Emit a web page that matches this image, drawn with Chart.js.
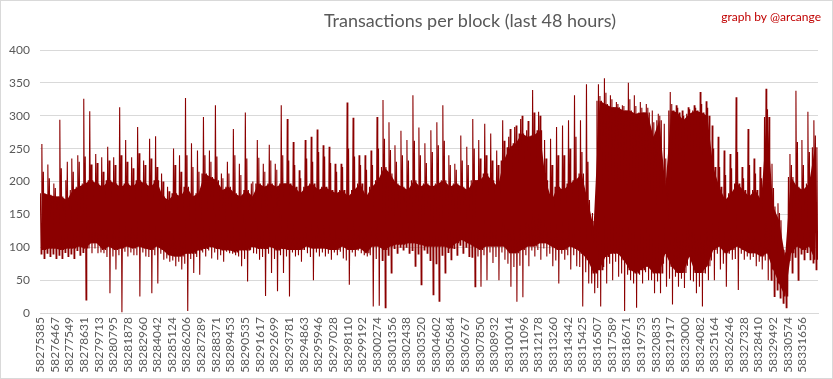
<!DOCTYPE html>
<html>
<head>
<meta charset="utf-8">
<script src="https://cdn.jsdelivr.net/npm/chart.js@4"></script>
<style>
html,body{margin:0;padding:0;background:#fff;}
#wrap{position:relative;width:833px;height:379px;box-sizing:border-box;border:1px solid #d9d9d9;background:#fff;}
canvas{display:block;}
</style>
</head>
<body>
<div id="wrap"><canvas id="c"></canvas></div>
<script>
// ---- data ----
const chartTitle = "Transactions per block (last 48 hours)";
const creditText = "graph by @arcange";
const firstBlock = 58275385;
const lastBlock = 58332804;
const tickBlocks = [58275385,58276467,58277549,58278631,58279713,58280795,58281878,58282960,58284042,58285124,58286206,58287289,58288371,58289453,58290535,58291617,58292699,58293781,58294863,58295946,58297028,58298110,58299192,58300274,58301356,58302438,58303520,58304602,58305684,58306767,58307850,58308932,58310014,58311096,58312178,58313260,58314342,58315425,58316507,58317589,58318671,58319753,58320835,58321917,58323000,58324082,58325164,58326246,58327328,58328410,58329492,58330574,58331656];
const yTicks = [0,50,100,150,200,250,300,350,400];
// per-segment envelope of transactions per block
const spikeHigh = [
 257,226,197,294,202,235,240,326,307,242,
 237,253,237,313,263,237,283,232,265,269,212,
 192,250,240,327,258,247,298,247,316,212,230,
 280,227,305,197,263,227,256,227,316,295,260,
 217,263,268,279,255,253,227,227,320,297,240,
 240,247,298,324,290,255,277,263,331,282,258,
 278,290,316,240,227,270,253,295,263,288,273,
 247,293,268,283,295,278,339,306,263,265,283,
 285,293,331,293,348,152,348,357,331,321,316,
 350,331,321,318,308,303,288,336,316,308,313,
 316,336,322,285,268,247,242,328,222,280,235,
 222,341,227,167,96,242,338,263,306,293];
const spikeHigh2 = [
 215,205,190,220,230,215,230,238,226,228,
 215,232,225,240,230,220,243,225,235,222,200,
 185,225,215,240,222,215,240,230,238,205,212,
 240,210,235,200,236,215,232,218,240,232,225,
 205,235,230,245,238,228,215,222,250,238,225,
 218,225,250,265,248,230,240,232,262,240,228,
 245,255,262,225,218,232,225,250,235,240,232,
 225,262,280,285,300,292,305,300,235,225,240,
 240,250,268,245,230,140,330,335,325,318,315,
 325,315,312,312,290,300,235,318,312,300,310,
 312,318,312,250,222,210,220,245,205,225,212,
 205,310,190,152,92,225,260,225,245,270];
const coreTop = [
 182,180,177,177,172,187,192,197,202,197,
 192,202,197,192,197,192,202,197,192,202,177,
 172,182,177,192,177,182,212,207,202,187,192,
 182,177,187,177,197,192,197,192,197,197,192,
 182,192,197,187,192,187,182,187,177,187,197,
 177,192,202,222,212,197,192,187,202,192,197,
 192,197,202,192,197,192,187,202,202,212,202,
 192,232,252,258,273,268,270,278,202,172,192,
 187,197,202,212,172,131,323,318,313,313,308,
 308,303,305,305,268,293,192,308,305,293,303,
 308,305,300,222,192,172,182,197,187,177,187,
 172,298,162,141,86,207,192,187,197,252];
const coreBottom = [
 96,98,98,96,98,98,101,98,106,106,
 96,101,96,98,101,98,101,98,96,101,96,
 88,86,86,91,91,96,98,101,98,96,96,
 93,96,96,101,98,98,101,96,98,96,96,
 96,101,98,98,98,96,96,101,96,96,98,
 91,101,101,96,101,104,104,106,106,104,101,
 101,101,101,98,106,111,106,101,96,101,101,
 101,101,91,91,96,101,101,106,106,101,96,
 96,101,98,91,81,61,66,86,91,91,81,
 66,61,66,71,61,61,91,71,61,61,86,
 61,61,71,96,101,91,96,101,96,91,91,
 86,91,66,45,25,91,101,96,101,81];
const spikeLow2 = [
 90,91,90,88,92,90,95,92,98,98,
 92,85,86,88,93,92,88,92,85,88,90,
 83,80,78,75,82,85,92,95,92,88,93,
 90,86,82,96,90,85,90,82,88,86,92,
 88,96,85,92,92,90,92,93,80,92,95,
 88,88,82,80,88,98,100,100,95,90,96,
 80,75,88,92,98,103,100,85,86,88,92,
 85,92,75,70,72,88,95,96,98,90,80,
 90,88,88,70,62,45,38,70,75,78,60,
 58,45,58,62,50,48,75,52,55,52,72,
 48,40,60,80,90,75,90,82,90,86,85,
 78,80,50,35,15,80,85,90,92,76];
const spikeLow = [
 83,86,83,83,86,83,88,20,91,91,
 91,30,66,1,86,88,25,86,30,45,81,
 78,71,66,3,61,58,86,83,81,78,91,
 88,71,48,91,81,26,61,33,61,25,86,
 78,91,50,86,86,81,88,83,43,86,91,
 86,10,11,8,61,91,96,91,71,43,91,
 28,18,61,81,88,91,86,40,40,50,76,
 50,81,40,17,24,71,86,81,86,71,45,
 81,66,71,10,45,30,10,45,50,55,3,
 50,8,45,50,30,30,40,13,40,38,50,
 30,10,50,50,66,40,81,35,81,81,71,
 66,50,25,23,8,61,50,81,81,66];

// ---- build series ----
const points = [];
const bandTop = [];
const bandBottom = [];
const segBlocks = (lastBlock - firstBlock) / spikeHigh.length;
for (let j = 0; j < spikeHigh.length; j++) {
  const seq = [coreTop[j], spikeLow2[j], spikeHigh[j], coreBottom[j], spikeHigh2[j], spikeLow[j], coreTop[j], coreBottom[j]];
  for (let k = 0; k < seq.length; k++) {
    points.push({x: firstBlock + segBlocks * (j + (k + 0.5) / seq.length), y: seq[k]});
  }
  bandTop.push({x: firstBlock + segBlocks * (j + 0.5), y: coreTop[j]});
  bandBottom.push({x: firstBlock + segBlocks * (j + 0.5), y: coreBottom[j]});
}

const textPlugin = {
  id: 'texts',
  afterDraw(chart) {
    const ctx = chart.ctx;
    ctx.save();
    ctx.textBaseline = 'middle';
    ctx.textAlign = 'center';
    ctx.fillStyle = '#595959';
    ctx.font = '18px Lato';
    ctx.fillText(chartTitle, 469, 20);
    ctx.textAlign = 'right';
    ctx.fillStyle = '#C00000';
    ctx.font = '12px Lato';
    ctx.fillText(creditText, 820, 16);
    ctx.restore();
  }
};

const RED = '#8B0000';
new Chart(document.getElementById('c'), {
  type: 'line',
  data: {
    datasets: [
      {
        data: points,
        borderColor: RED,
        backgroundColor: RED,
        borderWidth: 1.1,
        pointRadius: 0,
        tension: 0,
        fill: false,
        order: 0
      },
      {
        data: bandTop,
        borderColor: RED,
        backgroundColor: RED,
        borderWidth: 0,
        pointRadius: 0,
        tension: 0,
        fill: '+1',
        order: 1
      },
      {
        data: bandBottom,
        borderColor: RED,
        backgroundColor: RED,
        borderWidth: 0,
        pointRadius: 0,
        tension: 0,
        fill: false,
        order: 2
      }
    ]
  },
  options: {
    responsive: true,
    maintainAspectRatio: false,
    animation: false,
    devicePixelRatio: 1,
    layout: {padding: {top: 49, right: 14, left: 0, bottom: 0}},
    plugins: {legend: {display: false}, tooltip: {enabled: false}, title: {display: false}, filler: {drawTime: 'beforeDatasetsDraw'}},
    scales: {
      x: {
        type: 'linear',
        min: firstBlock,
        max: lastBlock,
        afterBuildTicks: (s) => { s.ticks = tickBlocks.map(v => ({value: v})); },
        afterFit: (s) => { s.height = 65; },
        grid: {display: false, drawTicks: false},
        border: {display: true, color: '#d9d9d9', width: 1},
        ticks: {
          autoSkip: false, minRotation: 90, maxRotation: 90, padding: 4,
          color: '#595959', font: {family: 'Lato', size: 12},
          callback: (v) => String(v)
        }
      },
      y: {
        min: 0, max: 400,
        afterBuildTicks: (s) => { s.ticks = yTicks.map(v => ({value: v})); },
        afterFit: (s) => { s.width = 39; },
        grid: {color: '#d9d9d9', drawTicks: false},
        border: {display: false},
        ticks: {padding: 10, color: '#595959', font: {family: 'Lato', size: 12}}
      }
    }
  },
  plugins: [textPlugin]
});
</script>
</body>
</html>
